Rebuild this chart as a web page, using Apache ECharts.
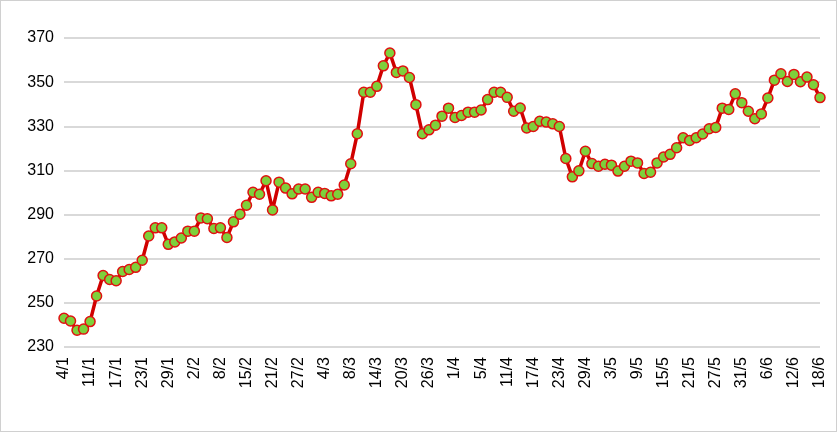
<!DOCTYPE html>
<html><head><meta charset="utf-8">
<script src="https://cdn.jsdelivr.net/npm/echarts@6/dist/echarts.min.js"></script>
<style>html,body{margin:0;padding:0;background:#fff}#c{width:837px;height:432px;box-sizing:border-box;border:1px solid #d0d0d0}</style>
</head><body><div id="c"></div>
<script>
const tickLabels = ["4/1","11/1","17/1","23/1","29/1","2/2","8/2","15/2","21/2","27/2","4/3","8/3","14/3","20/3","26/3","1/4","5/4","11/4","17/4","23/4","29/4","3/5","9/5","15/5","21/5","27/5","31/5","6/6","12/6","18/6"];
const values = [243,241.8,237.6,238.1,241.5,253.1,262.4,260.6,260,264.2,265.1,266.1,269.3,280.3,284,284,276.5,277.6,279.4,282.5,282.5,288.5,288.1,283.7,284,279.6,286.7,290.2,294.2,300.1,299.2,305.3,292.1,304.7,302,299.4,301.6,301.6,297.8,300.1,299.6,298.5,299.2,303.4,313,326.6,345.4,345.4,348.1,357.4,363.2,354.4,355.1,352.1,339.8,326.6,328.4,330.5,334.6,338.2,334,334.9,336.4,336.4,337.4,342.1,345.4,345.4,343.1,336.8,338.3,329.2,329.9,332.3,331.9,331.1,329.9,315.4,307.1,309.8,318.7,313.1,311.9,312.8,312.4,309.7,311.9,314.2,313.4,308.6,309.2,313.4,316.1,317.3,320.3,324.8,323.6,324.8,326.5,328.9,329.5,338.2,337.6,344.7,340.7,336.8,333.4,335.6,342.8,350.9,353.8,350.3,353.5,350.2,352.3,348.8,343];
const categories = values.map((v,i)=> i%4===0 ? tickLabels[i/4] : "d"+i);
const chart = echarts.init(document.getElementById('c'));
chart.setOption({
  animation:false,
  grid:{left:63,right:16,top:37,bottom:84,containLabel:false},
  xAxis:{type:'category',data:categories,boundaryGap:false,
    axisLine:{show:false},axisTick:{show:false},
    axisLabel:{interval:3,rotate:90,color:'#000',fontSize:16,fontFamily:'Liberation Sans',margin:10},
    splitLine:{show:false}},
  yAxis:{type:'value',min:230,max:370,interval:20,
    axisLine:{show:false},axisTick:{show:false},
    axisLabel:{color:'#000',fontSize:16,fontFamily:'Liberation Sans',margin:10},
    splitLine:{lineStyle:{color:'#d9d9d9',width:2}}},
  series:[{type:'line',data:values,symbol:'circle',symbolSize:10,showAllSymbol:true,
    lineStyle:{color:'#d00000',width:3.5},
    itemStyle:{color:'#7ed03b',borderColor:'#e01010',borderWidth:1.5}}]
});
</script></body></html>
